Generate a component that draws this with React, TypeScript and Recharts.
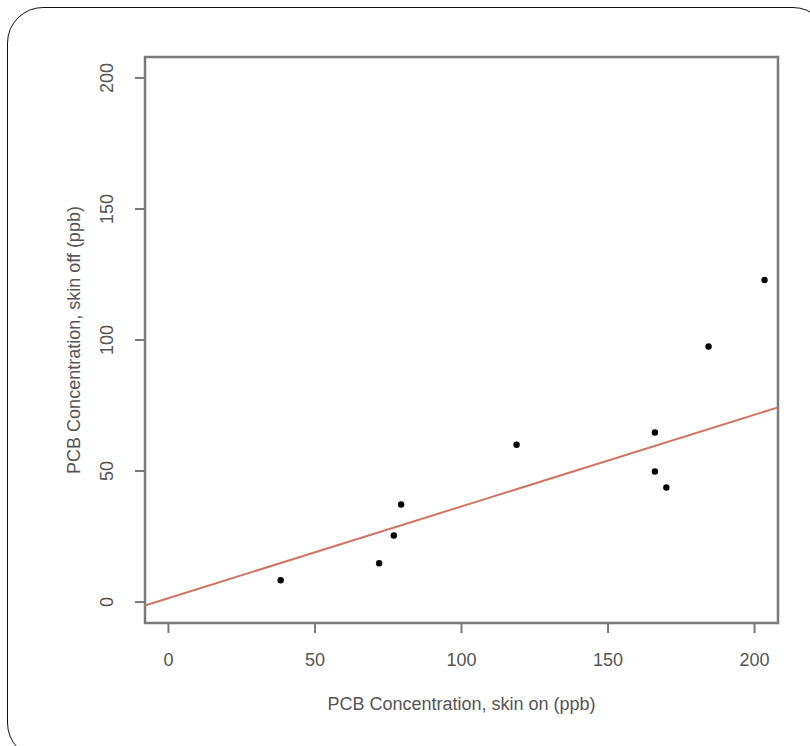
import { ScatterChart, Scatter, XAxis, YAxis, ReferenceArea, ReferenceLine, Label } from "recharts";

// PCB concentration, skin on vs skin off (ppb)
const skinOn = [38.3, 71.9, 76.9, 79.4, 118.8, 166, 166, 169.9, 184.3, 203.4];
const skinOff = [8.3, 14.8, 25.4, 37.2, 60.0, 64.7, 49.8, 43.7, 97.5, 122.9];
const xTicks = [0, 50, 100, 150, 200];
const yTicks = [0, 50, 100, 150, 200];
const axisLimits = [-8, 208];
const fitIntercept = 1.5;
const fitSlope = 0.35;

const points = skinOn.map((x, i) => ({ x, y: skinOff[i] }));
const fitEnds = axisLimits.map((x) => ({ x, y: fitIntercept + fitSlope * x }));

const FONT = "'Liberation Sans', Arial, sans-serif";
const TEXT = "#555";
const BOX = "#7a7a7a";

function XTick({ x, y, payload }: any) {
  return (
    <text x={x} y={y + 31} textAnchor="middle" fontSize={18} fill={TEXT} fontFamily={FONT}>
      {payload.value}
    </text>
  );
}

function YTick({ x, y, payload }: any) {
  const tx = x - 20;
  return (
    <text x={tx} y={y} transform={`rotate(-90, ${tx}, ${y})`} textAnchor="middle" fontSize={18} fill={TEXT} fontFamily={FONT}>
      {payload.value}
    </text>
  );
}

export default function App() {
  return (
    <div style={{ position: "absolute", left: 0, top: 0, width: 810, height: 746, background: "#fff", overflow: "hidden" }}>
      <div
        style={{
          position: "absolute",
          left: 7,
          top: 7,
          width: 822,
          height: 752,
          border: "1.5px solid #111",
          borderRadius: 36,
          boxSizing: "border-box",
        }}
      />
      <ScatterChart width={810} height={746} margin={{ top: 57, right: 32, bottom: 0, left: 0 }}>
        <XAxis
          type="number"
          dataKey="x"
          domain={axisLimits}
          ticks={xTicks}
          height={123}
          axisLine={false}
          tickSize={10}
          tickLine={{ stroke: BOX, strokeWidth: 2 }}
          tick={<XTick />}
          allowDataOverflow
        >
          <Label value="PCB Concentration, skin on (ppb)" position="insideBottom" offset={36} fontSize={18} fill={TEXT} fontFamily={FONT} />
        </XAxis>
        <YAxis
          type="number"
          dataKey="y"
          domain={axisLimits}
          ticks={yTicks}
          width={145}
          axisLine={false}
          tickSize={10}
          tickLine={{ stroke: BOX, strokeWidth: 2 }}
          tick={<YTick />}
          allowDataOverflow
        >
          <Label
            content={({ viewBox }: any) => {
              const cx = 80;
              const cy = viewBox.y + viewBox.height / 2;
              return (
                <text x={cx} y={cy} transform={`rotate(-90, ${cx}, ${cy})`} textAnchor="middle" fontSize={18} fill={TEXT} fontFamily={FONT}>
                  PCB Concentration, skin off (ppb)
                </text>
              );
            }}
          />
        </YAxis>
        <ReferenceArea x1={axisLimits[0]} x2={axisLimits[1]} y1={axisLimits[0]} y2={axisLimits[1]} fill="none" stroke={BOX} strokeWidth={2.5} ifOverflow="visible" />
        <ReferenceLine segment={fitEnds} stroke="#d27462" strokeWidth={2} ifOverflow="visible" />
        <Scatter
          data={points}
          isAnimationActive={false}
          shape={(p: any) => <circle cx={p.cx} cy={p.cy} r={3.2} fill="#000" />}
        />
      </ScatterChart>
    </div>
  );
}
